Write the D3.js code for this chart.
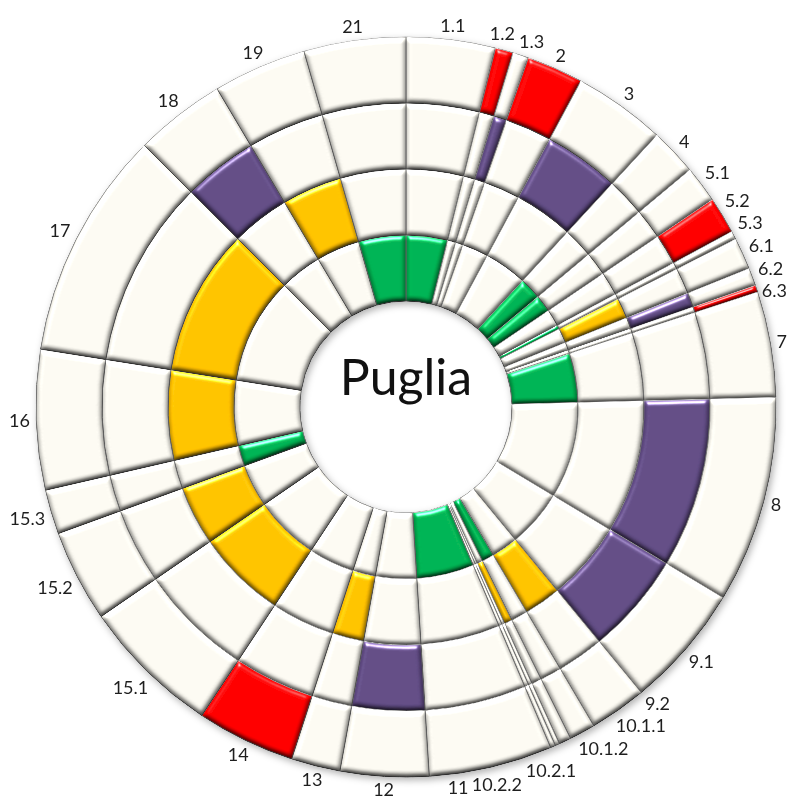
<!DOCTYPE html>
<html>
<head>
<meta charset="utf-8">
<script src="https://cdn.jsdelivr.net/npm/d3@7"></script>
<style>
  html, body { margin: 0; padding: 0; background: #ffffff; }
  svg { display: block; }
  .labels text { font-family: Lato, "Noto Sans", sans-serif; font-size: 18px; fill: #1e1e1e; }
  .title { font-family: Lato, "Noto Sans", sans-serif; font-size: 50px; fill: #111111; }
</style>
</head>
<body>
<div id="chart"></div>
<script>

// categories clockwise from the top
const categories = ["1.1", "1.2", "1.3", "2", "3", "4", "5.1", "5.2", "5.3", "6.1", "6.2", "6.3",
    "7", "8", "9.1", "9.2", "10.1.1", "10.1.2", "10.2.1", "10.2.2", "11", "12", "13", "14",
    "15.1", "15.2", "15.3", "16", "17", "18", "19", "21"];

// size of each slice (in degrees of the circle)
const shares = [14.0, 2.8, 2.5, 8.9, 14.5, 7.4, 5.8, 5.8, 1.3, 5.0, 2.8, 1.1,
    16.6, 32.5, 19.5, 9.0, 4.1, 1.9, 0.7, 0.8, 19.4, 13.9, 7.7, 15.5,
    22.0, 14.5, 7.0, 22.0, 36.0, 14.3, 14.7, 16.0];

// ring that is coloured for each category (0 = innermost ... 3 = outermost)
const filledRing = [0, 3, 2, 3, 2, 0, 0, 3, 0, 1, 2, 3,
    0, 2, 2, 1, 0, 1, null, null, 0, 2, 1, 3,
    1, 1, 0, 1, 1, 2, 1, 0];

const ringCount = 4;
const centerTitle = "Puglia";

const ringColors = ["#00b050", "#ffc000", "#5f4a82", "#ff0000"];
const cream = "#f8f6ee";

const W = 791, H = 807;
const cx = 406, cy = 407;
const innerR = 106, outerR = 370;

const svg = d3.select("#chart")
    .append("svg")
    .attr("width", W)
    .attr("height", H);

const defs = svg.append("defs");

// bevel look of every tile
const bevel = defs.append("filter")
    .attr("id", "bevel")
    .attr("x", "-10%").attr("y", "-10%")
    .attr("width", "120%").attr("height", "120%")
    .attr("color-interpolation-filters", "sRGB");
bevel.append("feGaussianBlur")
    .attr("in", "SourceAlpha").attr("stdDeviation", 2.5).attr("result", "blur");
bevel.append("feDiffuseLighting")
    .attr("in", "blur").attr("surfaceScale", 4).attr("diffuseConstant", 1)
    .attr("lighting-color", "#ffffff").attr("result", "diff")
    .append("feDistantLight").attr("azimuth", 260).attr("elevation", 50);
bevel.append("feComposite")
    .attr("in", "SourceGraphic").attr("in2", "diff").attr("operator", "arithmetic")
    .attr("k1", 0.91).attr("k2", 0.3).attr("k3", 0).attr("k4", 0).attr("result", "lit");
bevel.append("feSpecularLighting")
    .attr("in", "blur").attr("surfaceScale", 4).attr("specularConstant", 0.8)
    .attr("specularExponent", 25).attr("lighting-color", "#ffffff").attr("result", "spec")
    .append("feDistantLight").attr("azimuth", 260).attr("elevation", 30);
bevel.append("feComposite")
    .attr("in", "spec").attr("in2", "SourceAlpha").attr("operator", "in").attr("result", "specIn");
bevel.append("feComposite")
    .attr("in", "lit").attr("in2", "specIn").attr("operator", "arithmetic")
    .attr("k1", 0).attr("k2", 1).attr("k3", 1).attr("k4", 0).attr("result", "sum");
bevel.append("feComposite")
    .attr("in", "sum").attr("in2", "SourceAlpha").attr("operator", "in");

// soft shadow under the whole ring
defs.append("filter")
    .attr("id", "shadow")
    .attr("x", "-10%").attr("y", "-10%")
    .attr("width", "120%").attr("height", "120%")
    .append("feDropShadow")
    .attr("dx", 2).attr("dy", 3).attr("stdDeviation", 3.5)
    .attr("flood-color", "#000").attr("flood-opacity", 0.3);

const rScale = d3.scaleLinear()
    .domain([0, ringCount])
    .range([innerR, outerR]);

const pie = d3.pie()
    .sort(null)
    .value(d => d.share);

const slices = pie(categories.map((c, i) => ({ name: c, share: shares[i], ring: filledRing[i] })));

const arc = d3.arc();

const cells = [];
slices.forEach(s => {
    for (let k = 0; k < ringCount; k++) cells.push({ s: s, k: k });
});

const chart = svg.append("g")
    .attr("transform", `translate(${cx}, ${cy})`)
    .attr("filter", "url(#shadow)");

chart.selectAll("path.cell")
    .data(cells)
    .join("path")
    .attr("class", "cell")
    .attr("d", d => arc({
        innerRadius: rScale(d.k),
        outerRadius: rScale(d.k + 1),
        startAngle: d.s.startAngle,
        endAngle: d.s.endAngle
    }))
    .attr("fill", d => d.s.data.ring === d.k ? ringColors[d.k] : cream)
    .attr("stroke", "#8a8a8a")
    .attr("stroke-width", 1)
    .attr("filter", "url(#bevel)");

// title in the hole
svg.append("text")
    .attr("class", "title")
    .attr("x", cx)
    .attr("y", cy - 12)
    .attr("text-anchor", "middle")
    .text(centerTitle);

// category labels round the outside
const labels = slices.map(s => ({ name: s.data.name, a: (s.startAngle + s.endAngle) / 2 }));

const labelG = svg.append("g").attr("class", "labels");
const texts = labelG.selectAll("text")
    .data(labels)
    .join("text")
    .attr("text-anchor", "middle")
    .attr("dy", "0.35em")
    .text(d => d.name);

texts.each(function (d) { d.w = this.getComputedTextLength(); d.h = 13; });

function place(d) {
    const sa = Math.sin(d.a), ca = Math.cos(d.a);
    const r = outerR + 6 + Math.abs(sa) * d.w / 2 + Math.abs(ca) * d.h / 2;
    d.x = cx + r * sa;
    d.y = cy - r * ca;
}
labels.forEach(place);

// push crowded labels apart along the circle
for (let it = 0; it < 3000; it++) {
    let moved = false;
    for (let i = 0; i < labels.length; i++) {
        const p = labels[i], q = labels[(i + 1) % labels.length];
        const ox = (p.w + q.w) / 2 + 3 - Math.abs(p.x - q.x);
        const oy = 22 - Math.abs(p.y - q.y);
        if (ox > 0 && oy > 0) {
            p.a -= 0.002; q.a += 0.002;
            place(p); place(q);
            moved = true;
        }
    }
    if (!moved) break;
}

// keep every label inside the page
labels.forEach(d => {
    d.x = Math.max(d.w / 2 + 3, Math.min(W - d.w / 2 - 4, d.x));
    d.y = Math.max(12, Math.min(H - 12, d.y));
});

texts
    .attr("x", d => d.x)
    .attr("y", d => d.y);

</script>
</body>
</html>
